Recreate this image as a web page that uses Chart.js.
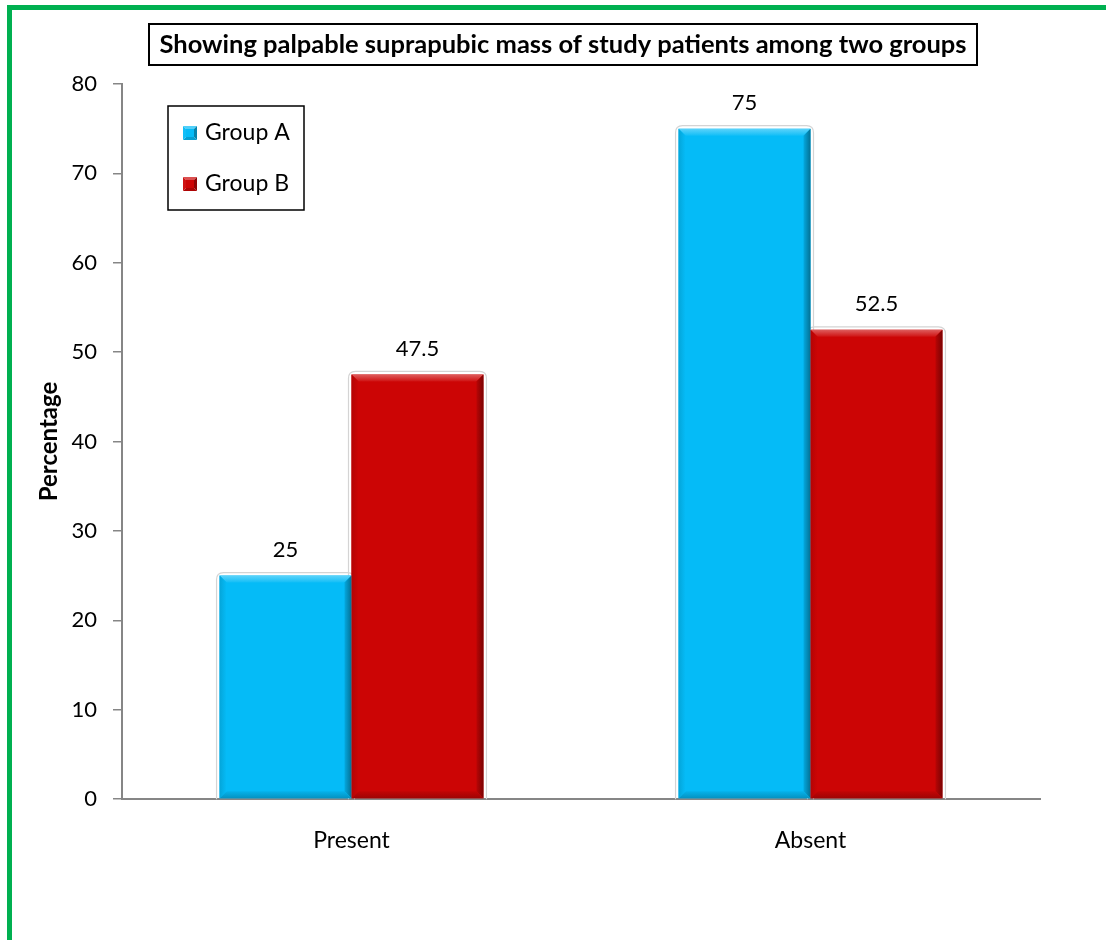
<!DOCTYPE html>
<html>
<head>
<meta charset="utf-8">
<title>Palpable suprapubic mass</title>
<script src="https://cdn.jsdelivr.net/npm/chart.js@4.4.1/dist/chart.umd.min.js"></script>
<style>
  html, body { margin: 0; padding: 0; background: #ffffff; overflow: hidden; }
  #frame {
    position: absolute; left: 7px; top: 5px;
    width: 1200px; height: 1100px;
    border: 5px solid #00B050; box-sizing: border-box;
  }
  #wrap { position: absolute; left: 0; top: 0; width: 1106px; height: 940px; }
</style>
</head>
<body>
<div id="frame"></div>
<div id="wrap"><canvas id="chart" width="1106" height="940"></canvas></div>
<script>
// Chart data
const categories = ['Present', 'Absent'];
const groupA = [25, 75];
const groupB = [47.5, 52.5];
const seriesNames = ['Group A', 'Group B'];
const yTicks = [0, 10, 20, 30, 40, 50, 60, 70, 80];

const chartTitle = 'Showing palpable suprapubic mass of study patients among two groups';
const yTitle = 'Percentage';

const FONT = 'Lato, "Open Sans", "Liberation Sans", sans-serif';
const AXIS_GREY = '#868686';

// Shade a hex colour: f > 0 lightens toward white, f < 0 darkens toward black
function shade(hex, f) {
  const n = parseInt(hex.slice(1), 16);
  let r = (n >> 16) & 255, g = (n >> 8) & 255, b = n & 255;
  const t = f < 0 ? 0 : 255, p = Math.abs(f);
  r = Math.round((t - r) * p + r);
  g = Math.round((t - g) * p + g);
  b = Math.round((t - b) * p + b);
  return `rgb(${r},${g},${b})`;
}

// Largest font size (px) at which text fits within maxWidth
function fitSize(ctx, text, weight, start, maxWidth) {
  let size = start;
  ctx.font = `${weight} ${size}px ${FONT}`;
  while (ctx.measureText(text).width > maxWidth && size > 8) {
    size -= 0.25;
    ctx.font = `${weight} ${size}px ${FONT}`;
  }
  return size;
}

// Soft outline behind each bar
const barOutline = {
  id: 'barOutline',
  beforeDatasetsDraw(chart) {
    const ctx = chart.ctx;
    ctx.save();
    chart.data.datasets.forEach((ds, i) => {
      chart.getDatasetMeta(i).data.forEach(el => {
        const l = el.x - el.width / 2 - 3, r = el.x + el.width / 2 + 3;
        const t = el.y - 3, b = el.base + 1;
        const rad = 7;
        ctx.beginPath();
        ctx.moveTo(l, b);
        ctx.lineTo(l, t + rad);
        ctx.quadraticCurveTo(l, t, l + rad, t);
        ctx.lineTo(r - rad, t);
        ctx.quadraticCurveTo(r, t, r, t + rad);
        ctx.lineTo(r, b);
        ctx.strokeStyle = '#d4d4d4';
        ctx.lineWidth = 1.2;
        ctx.stroke();
      });
    });
    ctx.restore();
  }
};

// Bevelled edges on every bar
const barBevel = {
  id: 'barBevel',
  afterDatasetsDraw(chart) {
    const ctx = chart.ctx;
    ctx.save();
    chart.data.datasets.forEach((ds, i) => {
      const base = ds.backgroundColor;
      chart.getDatasetMeta(i).data.forEach(el => {
        const l = el.x - el.width / 2, r = el.x + el.width / 2;
        const t = el.y, b = el.base;
        const k = Math.min(7, (b - t) / 2);
        const poly = (pts, fill) => {
          ctx.beginPath();
          ctx.moveTo(pts[0][0], pts[0][1]);
          for (let j = 1; j < pts.length; j++) ctx.lineTo(pts[j][0], pts[j][1]);
          ctx.closePath();
          ctx.fillStyle = fill;
          ctx.fill();
        };
        let g = ctx.createLinearGradient(0, t, 0, t + k);
        g.addColorStop(0, shade(base, 0.35));
        g.addColorStop(1, shade(base, 0.05));
        poly([[l, t], [r, t], [r - k, t + k], [l + k, t + k]], g);
        g = ctx.createLinearGradient(r - k, 0, r, 0);
        g.addColorStop(0, shade(base, -0.1));
        g.addColorStop(1, shade(base, -0.4));
        poly([[r, t], [r, b], [r - k, b - k], [r - k, t + k]], g);
        g = ctx.createLinearGradient(0, b - k, 0, b);
        g.addColorStop(0, shade(base, -0.05));
        g.addColorStop(1, shade(base, -0.22));
        poly([[l, b], [r, b], [r - k, b - k], [l + k, b - k]], g);
        g = ctx.createLinearGradient(l, 0, l + k, 0);
        g.addColorStop(0, shade(base, -0.12));
        g.addColorStop(1, shade(base, 0));
        poly([[l, t], [l + k, t + k], [l + k, b - k], [l, b]], g);
      });
    });
    ctx.restore();
  }
};

// Value labels above bars
const valueLabels = {
  id: 'valueLabels',
  afterDatasetsDraw(chart) {
    const ctx = chart.ctx;
    ctx.save();
    ctx.font = `22px ${FONT}`;
    ctx.fillStyle = '#000';
    ctx.textAlign = 'center';
    ctx.textBaseline = 'middle';
    chart.data.datasets.forEach((ds, i) => {
      chart.getDatasetMeta(i).data.forEach((el, j) => {
        ctx.fillText(String(ds.data[j]), el.x, el.y - 26);
      });
    });
    ctx.restore();
  }
};

// Boxed title above the plot
const boxedTitle = {
  id: 'boxedTitle',
  afterDraw(chart) {
    const ctx = chart.ctx;
    ctx.save();
    fitSize(ctx, chartTitle, 'bold', 26, 808);
    ctx.fillStyle = '#000';
    ctx.textAlign = 'center';
    ctx.textBaseline = 'middle';
    ctx.fillText(chartTitle, 563, 45);
    ctx.lineWidth = 2;
    ctx.strokeStyle = '#000';
    ctx.strokeRect(149, 24, 828, 41);
    ctx.restore();
  }
};

// Legend box inside the plot area
const boxLegend = {
  id: 'boxLegend',
  afterDraw(chart) {
    const ctx = chart.ctx;
    ctx.save();
    ctx.lineWidth = 1.5;
    ctx.strokeStyle = '#000';
    ctx.strokeRect(168, 106, 136, 104);
    ctx.font = `23px ${FONT}`;
    ctx.textBaseline = 'middle';
    ctx.textAlign = 'left';
    const rows = [133, 184];
    chart.data.datasets.forEach((ds, i) => {
      const c = ds.backgroundColor;
      const x = 183, y = rows[i] - 7, s = 14, m = s / 2;
      const tri = (pts, fill) => {
        ctx.beginPath();
        ctx.moveTo(pts[0][0], pts[0][1]);
        pts.slice(1).forEach(p => ctx.lineTo(p[0], p[1]));
        ctx.closePath();
        ctx.fillStyle = fill;
        ctx.fill();
      };
      tri([[x, y], [x + s, y], [x + m, y + m]], shade(c, 0.3));
      tri([[x + s, y], [x + s, y + s], [x + m, y + m]], shade(c, -0.3));
      tri([[x, y + s], [x + s, y + s], [x + m, y + m]], shade(c, -0.15));
      tri([[x, y], [x, y + s], [x + m, y + m]], shade(c, 0.05));
      ctx.fillStyle = c;
      ctx.fillRect(x + 3, y + 3, s - 6, s - 6);
      ctx.fillStyle = '#000';
      ctx.fillText(ds.label, 205, rows[i]);
    });
    ctx.restore();
  }
};

function build() {
  const ctx = document.getElementById('chart').getContext('2d');
  new Chart(ctx, {
    type: 'bar',
    data: {
      labels: categories,
      datasets: [
        { label: seriesNames[0], data: groupA, backgroundColor: '#05BBF7', borderWidth: 0 },
        { label: seriesNames[1], data: groupB, backgroundColor: '#CC0505', borderWidth: 0 }
      ]
    },
    options: {
      responsive: false,
      animation: false,
      devicePixelRatio: 1,
      layout: { padding: { left: 0, right: 66, top: 84, bottom: 0 } },
      datasets: { bar: { categoryPercentage: 0.575, barPercentage: 1.0 } },
      plugins: {
        legend: { display: false },
        title: { display: false },
        tooltip: { enabled: false }
      },
      scales: {
        x: {
          offset: true,
          grid: { display: false },
          border: { display: true, color: AXIS_GREY, width: 2 },
          ticks: { color: '#000', font: { family: FONT, size: 23 }, padding: 20 },
          afterFit(scale) { scale.height = 141; }
        },
        y: {
          min: 0, max: 80,
          afterBuildTicks(scale) { scale.ticks = yTicks.map(v => ({ value: v })); },
          grid: { drawOnChartArea: false, drawTicks: true, tickLength: 9, color: AXIS_GREY, lineWidth: 1.5 },
          border: { display: true, color: AXIS_GREY, width: 2 },
          ticks: { color: '#000', font: { family: FONT, size: 22 }, padding: 16 },
          title: {
            display: true, text: yTitle, color: '#000',
            font: { family: FONT, size: 24, weight: 'bold' },
            padding: { top: 35, bottom: 0 }
          },
          afterFit(scale) { scale.width = 122; }
        }
      }
    },
    plugins: [barOutline, barBevel, valueLabels, boxedTitle, boxLegend]
  });
}

// Make sure the faces are ready before the canvas is drawn
Promise.all([
  document.fonts.load('22px Lato'),
  document.fonts.load('bold 22px Lato')
]).then(build, build);
</script>
</body>
</html>
